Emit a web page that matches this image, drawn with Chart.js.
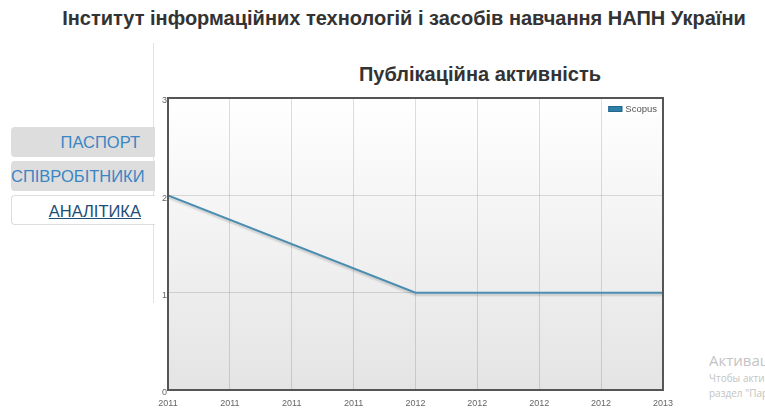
<!DOCTYPE html>
<html>
<head>
<meta charset="utf-8">
<script src="https://cdn.jsdelivr.net/npm/chart.js@4.4.1/dist/chart.umd.min.js"></script>
<style>
  body { margin: 0; width: 765px; height: 408px; overflow: hidden; background: #fff; font-family: "Liberation Sans", Arial, sans-serif; position: relative; }
  .title { position: absolute; left: 0; width: 808px; top: 7px; text-align: center; font-weight: bold; font-size: 20px; color: #333; white-space: nowrap; }
  .sub { position: absolute; left: 280px; width: 400px; top: 63px; text-align: center; font-weight: bold; font-size: 20px; color: #333; }
  .vline { position: absolute; left: 153px; top: 43px; width: 1px; height: 260px; background: #e2e2e2; }
  .tab { position: absolute; left: 11px; width: 144px; height: 30px; line-height: 30px; font-size: 16.5px; color: #3a86c4; text-align: right; box-sizing: border-box; border-radius: 4px 0 0 4px; white-space: nowrap; }
  .t1 { top: 127px; background: #dddddd; padding-right: 15px; }
  .t2 { top: 161px; background: #dddddd; text-align: left; padding-left: 0; }
  .t3 { top: 195px; background: #fff; border: 1px solid #ddd; border-right: none; padding-right: 14px; color: #1d4e78; text-decoration: underline; }
  .wm { position: absolute; left: 709px; color: #c4c4c4; white-space: nowrap; font-family: "Open Sans", sans-serif; }
  #wrap { position: absolute; left: 150px; top: 90px; width: 531px; height: 318px; }
</style>
</head>
<body>
<div class="title">Інститут інформаційних технологій і засобів навчання НАПН України</div>
<div class="vline"></div>
<div class="sub">Публікаційна активність</div>
<div class="tab t1">ПАСПОРТ</div>
<div class="tab t2">СПІВРОБІТНИКИ</div>
<div class="tab t3">АНАЛІТИКА</div>
<div id="wrap"><canvas id="myChart"></canvas></div>
<div class="wm" style="top:350px;font-size:15px;">Активация Windows</div>
<div class="wm" style="top:371px;font-size:10px;">Чтобы активировать Windows, перейдите в</div>
<div class="wm" style="top:386px;font-size:10px;">раздел "Параметры".</div>
<script>
// datos del grafico
const years = [2011, 2012, 2013];
const scopus = [2, 1, 1];
const xTickLabels = ['2011', '2011', '2011', '2011', '2012', '2012', '2012', '2012', '2013'];
const yTickLabels = ['0', '1', '2', '3'];

// fondo degradado, borde y leyenda dentro del area del grafico
const plotFrame = {
  id: 'plotFrame',
  beforeDraw(chart) {
    const { ctx, chartArea: a } = chart;
    const g = ctx.createLinearGradient(0, a.top, 0, a.bottom);
    g.addColorStop(0, '#ffffff');
    g.addColorStop(1, '#e4e4e4');
    ctx.save();
    ctx.fillStyle = g;
    ctx.fillRect(a.left, a.top, a.right - a.left, a.bottom - a.top);
    ctx.restore();
  },
  beforeDatasetsDraw(chart) {
    const ctx = chart.ctx;
    ctx.save();
    ctx.shadowColor = 'rgba(0,0,0,0.18)';
    ctx.shadowOffsetY = 2;
    ctx.shadowBlur = 2;
  },
  afterDatasetsDraw(chart) {
    chart.ctx.restore();
  },
  afterDraw(chart) {
    const { ctx, chartArea: a } = chart;
    ctx.save();
    ctx.strokeStyle = '#555';
    ctx.lineWidth = 2;
    ctx.strokeRect(a.left, a.top, a.right - a.left, a.bottom - a.top);
    // leyenda arriba a la derecha
    const ds = chart.data.datasets[0];
    ctx.font = '9.5px "Liberation Sans"';
    const tw = ctx.measureText(ds.label).width;
    const tx = a.right - 6 - tw;
    const by = a.top + 8;
    ctx.fillStyle = 'rgba(255,255,255,0.85)';
    ctx.fillRect(tx - 19, by - 3, tw + 22, 12);
    ctx.fillStyle = ds.backgroundColor;
    ctx.fillRect(tx - 17, by, 14, 6);
    ctx.strokeStyle = '#24678a';
    ctx.lineWidth = 1;
    ctx.strokeRect(tx - 16.5, by + 0.5, 13, 5);
    ctx.fillStyle = '#555';
    ctx.textBaseline = 'middle';
    ctx.fillText(ds.label, tx, by + 3);
    ctx.restore();
  }
};

const ctx = document.getElementById('myChart').getContext('2d');
const myChart = new Chart(ctx, {
  type: 'line',
  data: {
    datasets: [{
      label: 'Scopus',
      data: years.map((y, i) => ({ x: y, y: scopus[i] })),
      borderColor: '#4a8db0',
      backgroundColor: '#2f7fa8',
      borderWidth: 2,
      pointRadius: 0,
      tension: 0
    }]
  },
  options: {
    responsive: true,
    maintainAspectRatio: false,
    animation: false,
    layout: { padding: { top: 8, right: 0, left: 0, bottom: 0 } },
    plugins: {
      tooltip: { enabled: false },
      legend: { display: false }
    },
    scales: {
      x: {
        type: 'linear',
        min: 2011,
        max: 2013,
        afterBuildTicks: (scale) => {
          scale.ticks = xTickLabels.map((t, i) => ({ value: 2011 + i * 0.25 }));
        },
        afterFit: (scale) => { scale.height = 18; },
        ticks: {
          callback: (v, i) => xTickLabels[i],
          autoSkip: false,
          maxRotation: 0,
          padding: 8,
          color: '#666',
          font: { size: 9, family: 'Liberation Sans' }
        },
        grid: { color: 'rgba(0,0,0,0.13)', drawTicks: false },
        border: { display: false }
      },
      y: {
        min: 0,
        max: 3,
        afterBuildTicks: (scale) => {
          scale.ticks = yTickLabels.map((t, i) => ({ value: i }));
        },
        afterFit: (scale) => { scale.width = 18; },
        ticks: {
          callback: (v, i) => yTickLabels[i],
          padding: 1,
          labelOffset: 3,
          color: '#666',
          font: { size: 9, family: 'Liberation Sans' }
        },
        grid: { color: 'rgba(0,0,0,0.13)', drawTicks: false },
        border: { display: false }
      }
    }
  },
  plugins: [plotFrame]
});
</script>
</body>
</html>
